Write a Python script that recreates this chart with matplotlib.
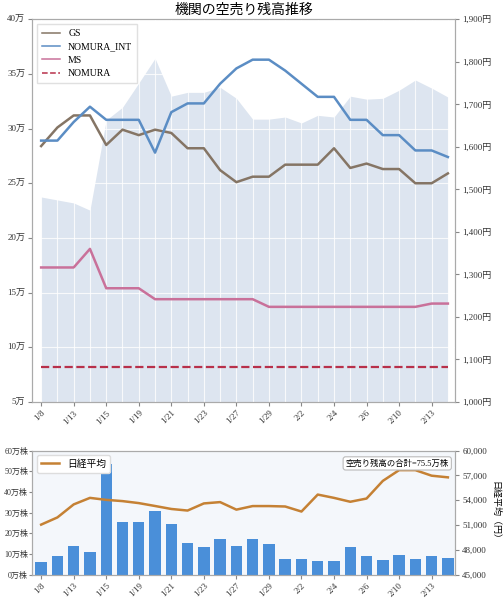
import numpy as np
import matplotlib
matplotlib.use('Agg')
import matplotlib.pyplot as plt
from matplotlib.ticker import FuncFormatter, MultipleLocator

plt.rcParams['font.family'] = ['Liberation Serif', 'Noto Sans CJK JP']

# ---- data -----------------------------------------------------------------
dates = ['1/8', '1/9', '1/13', '1/14', '1/15', '1/16', '1/19', '1/20', '1/21',
         '1/22', '1/23', '1/26', '1/27', '1/28', '1/29', '1/30', '2/2', '2/3',
         '2/4', '2/5', '2/6', '2/9', '2/10', '2/12', '2/13', '2/16']

# short balance per broker [万株]
gs = [28.4, 30.1, 31.2, 31.2, 28.5, 29.9, 29.4, 29.9, 29.6, 28.2, 28.2, 26.2, 25.1,
      25.6, 25.6, 26.7, 26.7, 26.7, 28.2, 26.4, 26.8, 26.3, 26.3, 25.0, 25.0, 25.9]
nomura_int = [28.9, 28.9, 30.6, 32.0, 30.8, 30.8, 30.8, 27.8, 31.5, 32.3, 32.3, 34.1, 35.5,
              36.3, 36.3, 35.3, 34.1, 32.9, 32.9, 30.8, 30.8, 29.4, 29.4, 28.0, 28.0, 27.4]
ms = [17.3, 17.3, 17.3, 19.0, 15.4, 15.4, 15.4, 14.4, 14.4, 14.4, 14.4, 14.4, 14.4,
      14.4, 13.7, 13.7, 13.7, 13.7, 13.7, 13.7, 13.7, 13.7, 13.7, 13.7, 14.0, 14.0]
nomura = [8.2] * 26

# stock price [円]
price = [1482, 1475, 1468, 1451, 1663, 1693, 1750, 1808, 1719, 1728, 1728, 1740, 1714,
         1665, 1665, 1670, 1656, 1674, 1670, 1719, 1712, 1714, 1733, 1757, 1738, 1717]

# volume [万株]
volume = [6.1, 9.0, 13.9, 11.0, 53.7, 25.6, 25.3, 30.6, 24.5, 15.6, 13.4, 17.1, 13.9,
          17.4, 14.7, 7.7, 7.7, 6.9, 6.9, 13.5, 9.0, 7.1, 9.8, 7.4, 8.9, 8.1]

# Nikkei average [円]
nikkei = [51060, 51930, 53500, 54290, 54050, 53900, 53660, 53310, 52950, 52760, 53620,
          53780, 52870, 53300, 53300, 53250, 52640, 54690, 54290, 53820, 54210, 56340,
          57640, 57640, 56970, 56770]

x = np.arange(len(dates))
total_last = gs[-1] + nomura_int[-1] + ms[-1] + nomura[-1]

TICK_KW = dict(labelsize=6.5, colors='#333333', length=3, width=0.8,
               color='#888888', pad=2)

# ---- figure ---------------------------------------------------------------
fig = plt.figure(figsize=(5.03, 6.0), dpi=100)
ax = fig.add_axes([0.064, 0.330, 0.841, 0.638])
ax2 = ax.twinx()
ax.set_zorder(ax2.get_zorder() + 1)
ax.patch.set_visible(False)

ax2.fill_between(x, 1000, price, color='#dde5f0', lw=0)
ax2.set_ylim(1000, 1900)
ax2.yaxis.set_major_locator(MultipleLocator(100))
ax2.yaxis.set_major_formatter(FuncFormatter(lambda v, p: f'{v:,.0f}円'))

ax.plot(x, gs, color='#857565', lw=1.8, label='GS')
ax.plot(x, nomura_int, color='#5b8dc4', lw=1.8, label='NOMURA_INT')
ax.plot(x, ms, color='#c9719a', lw=1.8, label='MS')
ax.plot(x, nomura, color='#b8304a', lw=1.6, ls='--', label='NOMURA')
ax.set_ylim(5, 40)
ax.yaxis.set_major_locator(MultipleLocator(5))
ax.yaxis.set_major_formatter(FuncFormatter(lambda v, p: f'{v:.0f}万'))
ax.set_xlim(-0.55, 25.45)
ax.set_xticks(x[::2])
ax.set_xticks(x[1::2], minor=True)
ax.set_xticklabels(dates[::2], rotation=45, ha='right', rotation_mode='anchor')
ax.tick_params(axis='x', which='minor', length=0)
ax.grid(True, which='both', axis='x', color='white', lw=0.8, alpha=0.8)
ax.grid(True, which='major', axis='y', color='white', lw=0.8, alpha=0.8)
ax.set_title('機関の空売り残高推移', fontsize=10, pad=4)
leg = ax.legend(loc='upper left', fontsize=7, frameon=True, fancybox=False,
                edgecolor='#e0e0e0', framealpha=1, handlelength=1.9,
                borderpad=0.5, labelspacing=0.45)
for h in leg.get_lines():
    h.set_linewidth(1.1)

for a in (ax, ax2):
    for s in a.spines.values():
        s.set_color('#aaaaaa')
    a.tick_params(**TICK_KW)

# ---- bottom chart ---------------------------------------------------------
bx = fig.add_axes([0.064, 0.042, 0.841, 0.207])
bx.set_facecolor('#f4f7fb')
bx.bar(x, volume, width=0.7, color='#4a8fd9')
bx.set_ylim(0, 60)
bx.yaxis.set_major_locator(MultipleLocator(10))
bx.yaxis.set_major_formatter(FuncFormatter(lambda v, p: f'{v:.0f}万株'))
bx.set_xlim(-0.55, 25.45)
bx.set_xticks(x[::2])
bx.set_xticklabels(dates[::2], rotation=45, ha='right', rotation_mode='anchor')

bx2 = bx.twinx()
bx2.plot(x, nikkei, color='#c58134', lw=1.8, label='日経平均')
bx2.set_ylim(45000, 60000)
bx2.yaxis.set_major_locator(MultipleLocator(3000))
bx2.yaxis.set_major_formatter(FuncFormatter(lambda v, p: f'{v:,.0f}'))
bx2.set_ylabel('日経平均（円）', rotation=270, labelpad=9, fontsize=6.5)
bl = bx2.legend(loc='upper left', fontsize=7, frameon=True, fancybox=True,
                edgecolor='#dddddd', framealpha=1, handlelength=1.9)
bx2.text(0.985, 0.93, f'空売り残高の合計={total_last:.1f}万株', transform=bx2.transAxes,
         ha='right', va='top', fontsize=6,
         bbox=dict(boxstyle='round,pad=0.3', fc='white', ec='#bbbbbb', lw=0.8))

for a in (bx, bx2):
    for s in a.spines.values():
        s.set_color('#aaaaaa')
    a.tick_params(**TICK_KW)
bx.tick_params(axis='y', labelsize=5.8, length=2, pad=1)

fig.savefig('out.png', dpi=100)
